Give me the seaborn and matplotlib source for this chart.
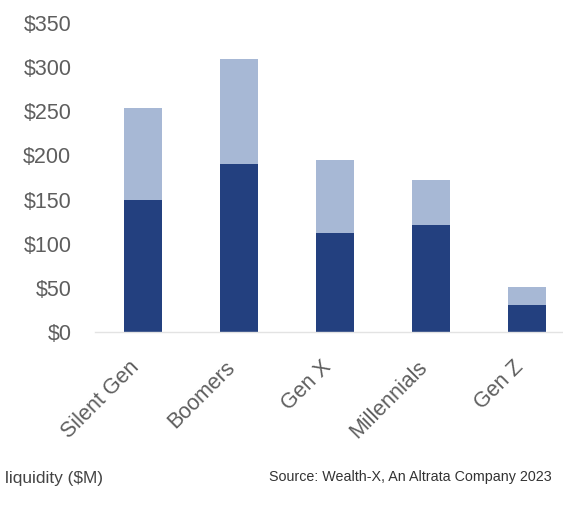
import matplotlib
matplotlib.use("Agg")
import matplotlib.pyplot as plt
import matplotlib.transforms as mtransforms
import seaborn as sns
import pandas as pd

generations = ["Silent Gen", "Boomers", "Gen X", "Millennials", "Gen Z"]
liquid_part = [149, 190, 112, 121, 31]
total_wealth = [254, 309, 195, 172, 51]
y_ticks = [0, 50, 100, 150, 200, 250, 300, 350]

DARK = "#23407f"
LIGHT = "#a7b8d5"

sns.set_style("white")
plt.rcParams["font.family"] = ["Liberation Sans", "DejaVu Sans"]

df = pd.DataFrame({"gen": generations, "liquid": liquid_part, "total": total_wealth})

fig = plt.figure(figsize=(5.63, 5.14), dpi=100)
ax = fig.add_axes([95 / 563, (514 - 332) / 514, 480 / 563, 309 / 514])

sns.barplot(data=df, x="gen", y="total", color=LIGHT, width=0.4, saturation=1,
            linewidth=0, edgecolor="none", ax=ax)
sns.barplot(data=df, x="gen", y="liquid", color=DARK, width=0.4, saturation=1,
            linewidth=0, edgecolor="none", ax=ax)

ax.set_xlim(-0.5, 4.5)
ax.set_ylim(0, 350)
ax.set_yticks(y_ticks)
ax.set_yticklabels([f"${v}" for v in y_ticks], fontsize=15.5, color="#5e5e5e")
ax.set_xticks(range(len(generations)))
ax.set_xticklabels(generations, rotation=45, ha="right", rotation_mode="anchor",
                   fontsize=15.5, color="#5e5e5e")
ax.tick_params(axis="y", length=0, pad=17)
ax.tick_params(axis="x", length=0, pad=18)
ax.set_xlabel("")
ax.set_ylabel("")

# nudge the rotated labels left, as in the original
shift = mtransforms.ScaledTranslation(-14 / 100, 0, fig.dpi_scale_trans)
for lbl in ax.get_xticklabels():
    lbl.set_transform(lbl.get_transform() + shift)

for side in ["top", "right", "left"]:
    ax.spines[side].set_visible(False)
ax.spines["bottom"].set_color("#e3e3e3")
ax.spines["bottom"].set_linewidth(1.0)

fig.text(5 / 563, 1 - 478 / 514, "liquidity ($M)", fontsize=12.4, color="#444444",
         va="center", ha="left")
fig.text(269 / 563, 1 - 477 / 514, "Source: Wealth-X, An Altrata Company 2023",
         fontsize=10.3, color="#333333", va="center", ha="left")

fig.savefig("out.png", dpi=100)
